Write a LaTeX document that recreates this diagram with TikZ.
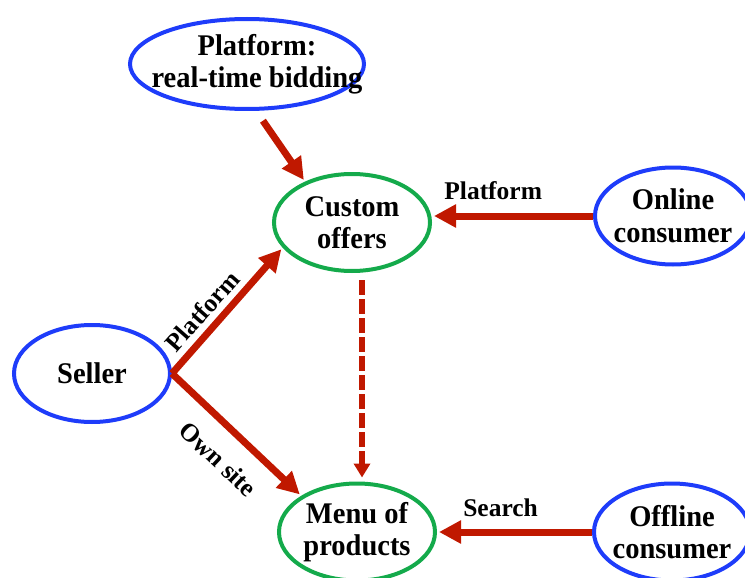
\documentclass[tikz,border=0pt]{standalone}
\usepackage{fontspec}
\setmainfont{Liberation Serif}
\newfontfamily\tallserif[FakeStretch=0.95]{Liberation Serif}
\usetikzlibrary{shapes.geometric,arrows.meta}

\definecolor{bubbleblue}{RGB}{30,60,250}
\definecolor{bubblegreen}{RGB}{20,170,75}
\definecolor{arrowred}{RGB}{192,24,0}

\tikzset{
  bubble/.style={ellipse, draw, line width=4pt, inner sep=0pt,
    minimum width=156pt, minimum height=97pt},
  bluebubble/.style={bubble, draw=bubbleblue},
  greenbubble/.style={bubble, draw=bubblegreen},
  bubbletext/.style={font=\tallserif\bfseries\fontsize{30}{32.5}\selectfont, align=center, inner sep=0pt},
  flow/.style={draw=arrowred, line width=7pt, shorten >=2pt,
    -{Triangle[length=22pt,width=22pt]}, arrowred},
  dashflow/.style={draw=arrowred, line width=6pt, dash pattern=on 15pt off 4pt,
    -{Triangle[length=14pt,width=16pt]}, arrowred},
  edgetext/.style={font=\bfseries\fontsize{25.5}{28}\selectfont, text=black, inner sep=0pt}
}

\begin{document}
\begin{tikzpicture}[x=1pt, y=-1pt]
  \useasboundingbox (0,0) rectangle (745,578);
  \clip (0,0) rectangle (745,578);

  % actors and offers
  \node[bluebubble, minimum width=234pt, minimum height=90pt,
        label={[bubbletext, xshift=10pt]center:Platform:\\real-time bidding}] (rtb) at (247,64) {};
  \node[greenbubble, label={[bubbletext]center:Custom\\offers}] (co) at (352,222.5) {};
  \node[bluebubble, label={[bubbletext]center:Online\\consumer}] (oc) at (673,216) {};
  \node[bluebubble, label={[bubbletext]center:Seller}] (seller) at (92,373.5) {};
  \node[greenbubble, label={[bubbletext]center:Menu of\\products}] (mp) at (357,532) {};
  \node[bluebubble, label={[bubbletext]center:Offline\\consumer}] (fc) at (672,532) {};

  % flows between them
  \draw[flow, shorten <=12pt] (rtb.-79) -- (co.139);
  \draw[flow] (oc.west) -- node[edgetext, pos=0.62, above=13pt] {Platform} (oc.west -| co.east);
  \draw[flow] (seller.east) -- node[edgetext, pos=0.4, sloped, above=6pt] {Platform} (co.200);
  \draw[flow] (seller.east) -- node[edgetext, pos=0.52, sloped, below=18pt] {Own site} (mp.147);
  \draw[flow] (fc.west) -- node[edgetext, pos=0.59, above=12pt] {Search} (mp.east);
  \draw[dashflow, shorten <=7pt, shorten >=4pt] ([xshift=10pt]co.south) -- ([xshift=5pt]mp.north);
\end{tikzpicture}
\end{document}
